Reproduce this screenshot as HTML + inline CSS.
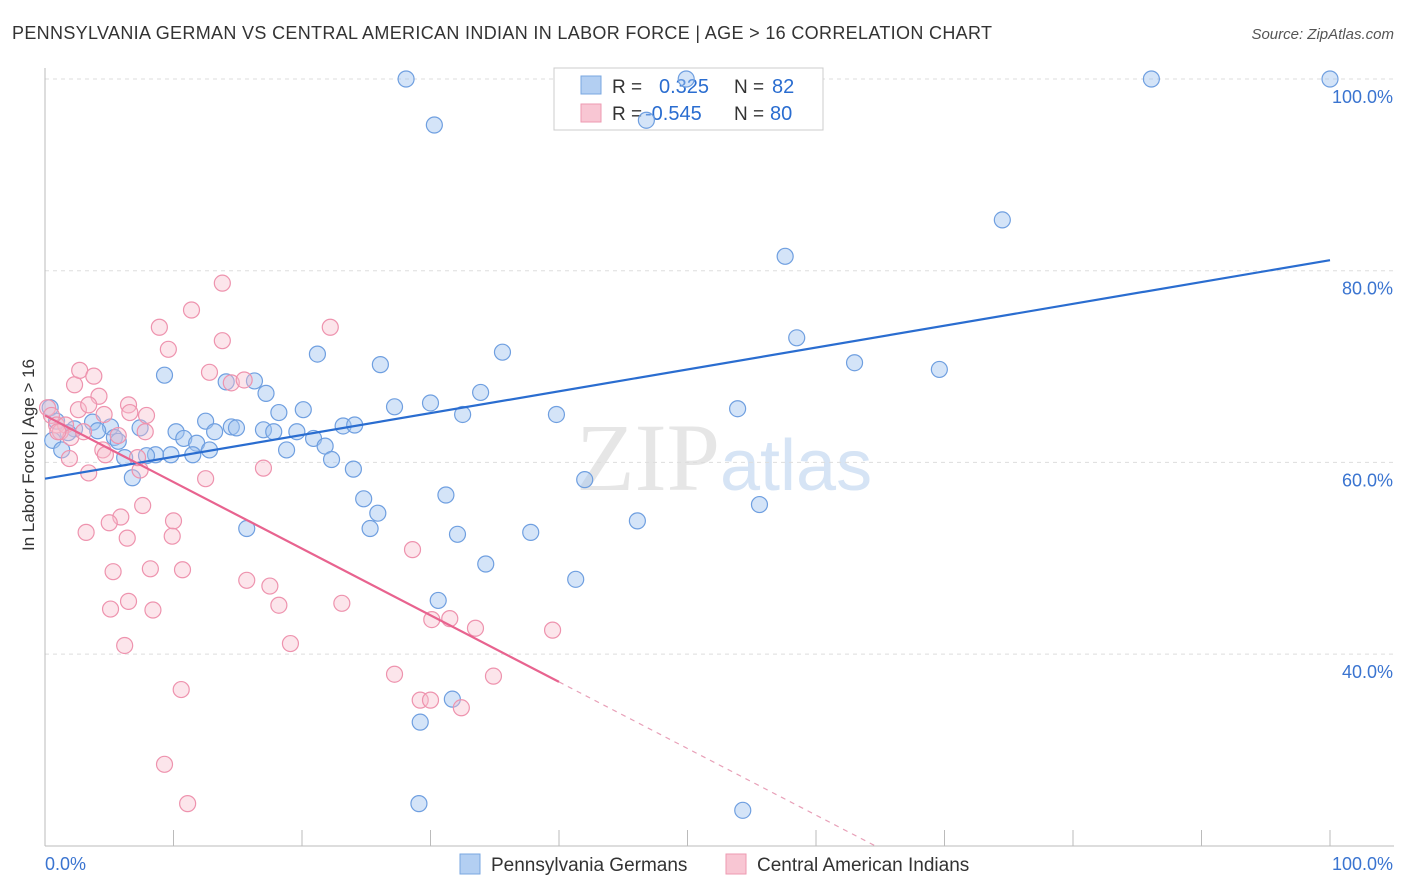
<!DOCTYPE html>
<html><head><meta charset="utf-8"><style>
body{margin:0;background:#fff;font-family:"Liberation Sans",sans-serif;}
svg{display:block}
</style></head><body>
<svg id="chart" width="1406" height="892">
<text x="12" y="39" font-size="18" fill="#333" textLength="980" lengthAdjust="spacing">PENNSYLVANIA GERMAN VS CENTRAL AMERICAN INDIAN IN LABOR FORCE | AGE &gt; 16 CORRELATION CHART</text>
<text x="1394" y="39" font-size="15" fill="#555" font-style="italic" text-anchor="end">Source: ZipAtlas.com</text>
<text x="720" y="490" font-size="96" fill="#e6e6e6" font-family="Liberation Serif,serif" text-anchor="end">ZIP</text>
<text x="720" y="490" font-size="72" fill="#d6e4f5">atlas</text>
<text transform="translate(34,455) rotate(-90)" font-size="17" fill="#333" text-anchor="middle">In Labor Force | Age &gt; 16</text>
<g id="grid"></g>
<g>
<rect x="554" y="68" width="269" height="62" fill="#fff" stroke="#ccc"/>
<rect x="581" y="76" width="20" height="18" fill="#b3cff2" stroke="#7aa7e0"/>
<rect x="581" y="104" width="20" height="18" fill="#f8c6d3" stroke="#ee9ab2"/>
<text x="612" y="93" font-size="19" fill="#333">R =</text>
<text x="659" y="93" font-size="20" fill="#2a6dd0">0.325</text>
<text x="734" y="93" font-size="19" fill="#333">N =</text>
<text x="772" y="93" font-size="20" fill="#2a6dd0">82</text>
<text x="612" y="120" font-size="19" fill="#333">R =</text>
<text x="645" y="120" font-size="20" fill="#2a6dd0">-0.545</text>
<text x="734" y="120" font-size="19" fill="#333">N =</text>
<text x="770" y="120" font-size="20" fill="#2a6dd0">80</text>
</g>
<g id="marks"></g>
<g>
<rect x="460" y="854" width="20" height="20" fill="#b3cff2" stroke="#7aa7e0"/>
<text x="491" y="871" font-size="19" fill="#333">Pennsylvania Germans</text>
<rect x="726" y="854" width="20" height="20" fill="#f8c6d3" stroke="#ee9ab2"/>
<text x="757" y="871" font-size="19" fill="#333">Central American Indians</text>
</g>
</svg>
<script>
const yTicks=[40,60,80,100];
const yTickLabels=["40.0%","60.0%","80.0%","100.0%"];
const xLabels=["0.0%","100.0%"];
const blueX=[28.1,30.3,49.9,86.1,100,46.8,74.5,57.6,58.5,63.0,69.6,35.6,21.2,26.1,33.9,9.3,14.1,16.3,17.2,27.2,30.0,32.5,39.8,53.9,18.2,20.1,12.5,14.5,14.9,10.2,10.8,11.8,13.2,17.0,17.8,19.6,20.9,23.2,24.1,21.8,18.8,12.8,11.5,9.8,8.6,7.9,6.2,6.8,22.3,24.0,5.1,5.4,3.7,4.1,2.3,1.8,0.6,1.3,7.4,5.7,24.8,25.9,25.3,31.2,32.1,37.8,42.0,46.1,55.6,15.7,34.3,41.3,30.6,31.7,29.2,29.1,54.3,0.4,0.9];
const blueY=[100,95.2,100,100,100,95.7,85.3,81.5,73.0,70.4,69.7,71.5,71.3,70.2,67.3,69.1,68.4,68.5,67.2,65.8,66.2,65.0,65.0,65.6,65.2,65.5,64.3,63.7,63.6,63.2,62.5,62.0,63.2,63.4,63.2,63.2,62.5,63.8,63.9,61.7,61.3,61.3,60.8,60.8,60.8,60.7,60.5,58.4,60.3,59.3,63.7,62.6,64.2,63.3,63.5,63.1,62.3,61.3,63.6,62.2,56.2,54.7,53.1,56.6,52.5,52.7,58.2,53.9,55.6,53.1,49.4,47.8,45.6,35.3,32.9,24.4,23.7,65.7,64.3];
const pinkX=[13.8,11.4,8.9,22.2,13.8,9.6,2.3,2.7,3.8,4.2,2.6,3.4,0.2,0.5,0.9,1.6,1.2,2.0,3.0,4.6,6.5,6.6,7.9,5.7,4.5,4.7,1.9,3.4,7.4,7.2,12.8,14.5,15.5,7.6,5.9,5.0,6.4,3.2,10.0,9.9,17.0,12.5,8.2,10.7,5.3,15.7,17.5,6.5,5.1,8.4,18.2,23.1,28.6,6.2,19.1,30.1,31.5,33.5,39.5,27.2,34.9,29.2,30.0,32.4,10.6,9.3,11.1,1.0,7.8];
const pinkY=[78.7,75.9,74.1,74.1,72.7,71.8,68.1,69.6,69.0,66.9,65.5,66.0,65.7,64.9,63.9,63.9,63.2,62.6,63.2,65.0,66.0,65.2,64.9,62.8,61.3,60.8,60.4,58.9,59.2,60.5,69.4,68.3,68.6,55.5,54.3,53.7,52.1,52.7,53.9,52.3,59.4,58.3,48.9,48.8,48.6,47.7,47.1,45.5,44.7,44.6,45.1,45.3,50.9,40.9,41.1,43.6,43.7,42.7,42.5,37.9,37.7,35.2,35.2,34.4,36.3,28.5,24.4,63.2,63.2];
const blueTrend=[58.3,81.1];
const pinkTrend=[64.9,-0.695];
const NS='http://www.w3.org/2000/svg';
const sx=v=>45+v*12.85, sy=v=>79+(100-v)*9.585;
function mk(t,a,p){const e=document.createElementNS(NS,t);for(const k in a)e.setAttribute(k,a[k]);p.appendChild(e);return e;}
const grid=document.getElementById('grid'),marks=document.getElementById('marks');
yTicks.forEach((t,i)=>{
 const l=mk('line',{x1:45,x2:1394,y1:sy(t),y2:sy(t),stroke:'#ddd','stroke-dasharray':'4,4'},grid);
 
 
 const tx=mk('text',{x:1393,y:sy(t)+24,'font-size':18,fill:'#3a74d0','text-anchor':'end'},grid);
 tx.textContent=yTickLabels[i];
 
 
});
mk('line',{x1:45,x2:45,y1:68,y2:846,stroke:'#bbb'},grid);
mk('line',{x1:45,x2:1394,y1:846,y2:846,stroke:'#bbb'},grid);
for(let i=0;i<=10;i++){const l=mk('line',{x1:sx(i*10),x2:sx(i*10),y1:830,y2:846,stroke:'#bbb'},grid);
 
 }
[[45,'start'],[1393,'end']].forEach((p,i)=>{const t=mk('text',{x:p[0],y:870,'font-size':18,fill:'#3a74d0','text-anchor':p[1]},grid);t.textContent=xLabels[i];
 
 });
blueX.forEach((x,i)=>{const c=mk('circle',{cx:sx(x),cy:sy(blueY[i]),r:8,fill:'rgba(160,195,240,0.45)',stroke:'#6f9fe0','stroke-width':1.2},marks);
 
 });
pinkX.forEach((x,i)=>{const c=mk('circle',{cx:sx(x),cy:sy(pinkY[i]),r:8,fill:'rgba(248,190,205,0.4)',stroke:'#ee93ae','stroke-width':1.2},marks);
 
 });
const bl=mk('line',{x1:sx(0),y1:sy(blueTrend[0]),x2:sx(100),y2:sy(blueTrend[1]),stroke:'#2a6dd0','stroke-width':2.2},marks);


const pAt=x=>pinkTrend[0]+pinkTrend[1]*x;
const pl=mk('line',{x1:sx(0),y1:sy(pAt(0)),x2:sx(40),y2:sy(pAt(40)),stroke:'#e8638f','stroke-width':2.2},marks);


const xEnd=(20-pinkTrend[0])/pinkTrend[1];
const pd=mk('line',{x1:sx(40),y1:sy(pAt(40)),x2:sx(xEnd),y2:sy(20),stroke:'#e8a0b8','stroke-width':1.2,'stroke-dasharray':'5,5'},marks);


</script>
</body></html>
